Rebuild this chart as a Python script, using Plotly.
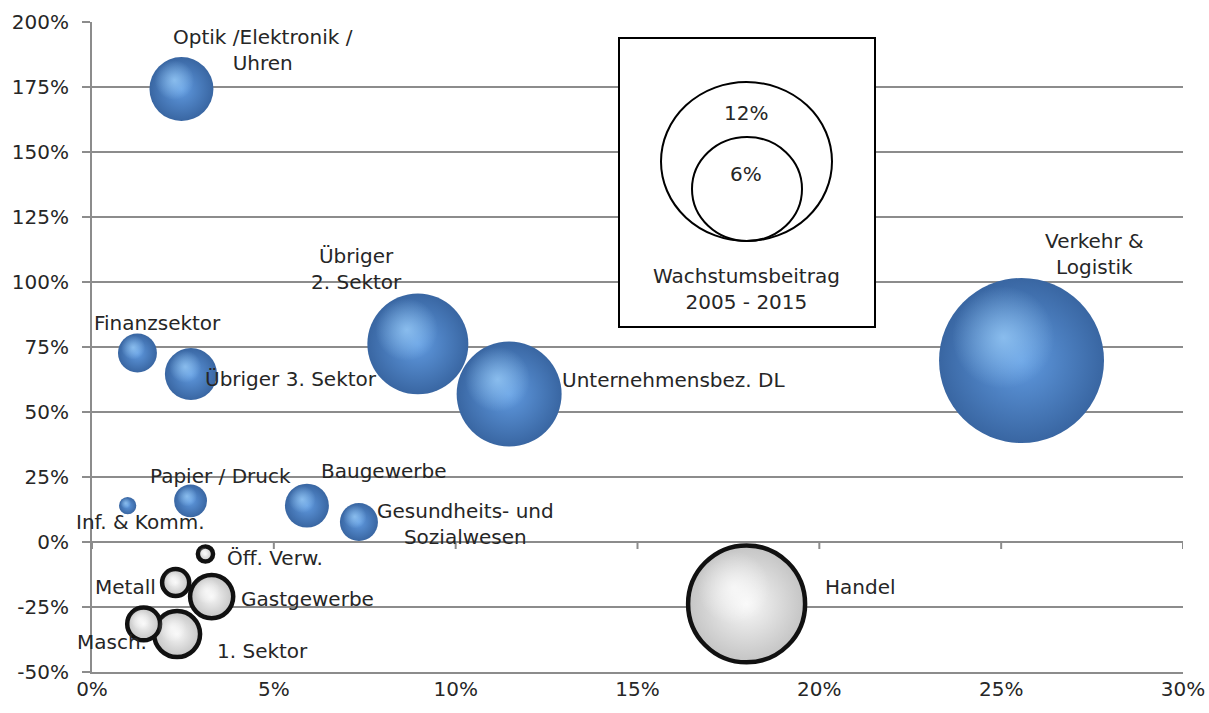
import numpy as np
import plotly.graph_objects as go

# ---------------- data ----------------
branchen = ["Optik /Elektronik /<br>Uhren", "Finanzsektor", "Übriger 3. Sektor",
            "Übriger<br>2. Sektor", "Unternehmensbez. DL", "Verkehr &<br>Logistik",
            "Inf. & Komm.", "Papier / Druck", "Baugewerbe", "Gesundheits- und<br>Sozialwesen",
            "1. Sektor", "Metall", "Masch.", "Gastgewerbe", "Öff. Verw.", "Handel"]
# Beschäftigungswachstum 2005-2015 (x, %)
wachstum_x = [2.46, 1.25, 2.72, 8.96, 11.47, 25.56, 0.98, 2.71, 5.91, 7.34,
              2.34, 2.30, 1.42, 3.29, 3.12, 18.0]
# Wertschöpfungswachstum (y, %)
wachstum_y = [174.2, 72.7, 64.6, 76.2, 56.9, 69.8, 14.0, 15.8, 14.0, 7.7,
              -35.4, -15.6, -31.5, -21.0, -4.6, -23.8]
# Wachstumsbeitrag 2005-2015 (bubble size, %; negative = white bubble)
beitrag = [1.78, 0.66, 1.18, 4.44, 4.80, 11.85, 0.13, 0.47, 0.84, 0.63,
           -0.92, -0.32, -0.47, -0.81, -0.10, -5.96]

x_ticks = [0, 5, 10, 15, 20, 25, 30]
y_ticks = [-50, -25, 0, 25, 50, 75, 100, 125, 150, 175, 200]
legend_values = ["12%", "6%"]
legend_title = "Wachstumsbeitrag<br>2005 - 2015"

# ---------------- styling ----------------
FONT = "DejaVu Sans"
TXT = "#262626"
GRID = "#8c8c8c"
D_REF, V_REF = 166.0, 12.0   # bubble diameter (px) for reference value
X_RANGE, Y_RANGE = [0, 30], [-50, 200]
L, R, T, B = 92, 1183, 22, 672   # plot area in pixels
PX_X = (R - L) / (X_RANGE[1] - X_RANGE[0])
PX_Y = (B - T) / (Y_RANGE[1] - Y_RANGE[0])

def diam(v):
    return D_REF * np.sqrt(abs(v) / V_REF)

# label offsets (pixels) and anchors, per branch
label_pos = [(82, 39, "center"), (20, 30, "center"), (12, -5, "left"),
             (-61, 75, "center"), (51, 14, "left"), (73, 107, "center"),
             (13, -16, "center"), (30, 25, "center"), (77, 35, "center"), (107, -2, "center"),
             (38, -17, "left"), (-18, -4, "right"), (5, -18, "right"), (27, -2, "left"),
             (20, -4, "left"), (76, 17, "left")]

fig = go.Figure()

pos = [i for i, v in enumerate(beitrag) if v > 0]
neg = [i for i, v in enumerate(beitrag) if v < 0]

def highlight(idx, col):
    return go.Scatter(
        x=[wachstum_x[i] - 0.22 * diam(beitrag[i]) / 2 / PX_X for i in idx],
        y=[wachstum_y[i] + 0.28 * diam(beitrag[i]) / 2 / PX_Y for i in idx], mode="markers",
        marker=dict(size=[0.62 * diam(beitrag[i]) for i in idx], sizemode="diameter", sizeref=1,
                    color=col.replace("ALPHA", "0"),
                    gradient=dict(type="radial", color=col.replace("ALPHA", "0.95")),
                    line=dict(width=0)),
        hoverinfo="skip", showlegend=False)

# blue spheres (positive contribution)
fig.add_trace(go.Scatter(
    x=[wachstum_x[i] for i in pos], y=[wachstum_y[i] for i in pos], mode="markers",
    marker=dict(size=[diam(beitrag[i]) for i in pos], sizemode="diameter", sizeref=1,
                color="#3966a2", opacity=1,
                gradient=dict(type="radial", color="#609ae0"),
                line=dict(width=0)),
    hoverinfo="skip", showlegend=False))
fig.add_trace(highlight(pos, "rgba(165,215,255,ALPHA)"))

# white spheres (negative contribution)
fig.add_trace(go.Scatter(
    x=[wachstum_x[i] for i in neg], y=[wachstum_y[i] for i in neg], mode="markers",
    marker=dict(size=[diam(beitrag[i]) for i in neg], sizemode="diameter", sizeref=1,
                color="#c4c4c4", opacity=1,
                gradient=dict(type="radial", color="#f8f8f8"),
                line=dict(width=4.5, color="#111111")),
    hoverinfo="skip", showlegend=False))
fig.add_trace(highlight(neg, "rgba(255,255,255,ALPHA)"))

annotations = []
for i, name in enumerate(branchen):
    dx, dy, anc = label_pos[i]
    annotations.append(dict(x=wachstum_x[i], y=wachstum_y[i], xref="x", yref="y",
                            text=name, showarrow=False, xshift=dx, yshift=dy,
                            xanchor=anc, yanchor="middle", align="center",
                            font=dict(family=FONT, size=20, color=TXT)))

# legend box (paper coordinates from pixel layout)
def px(xp): return (xp - L) / (R - L)
def py(yp): return (B - yp) / (B - T)

shapes = []
shapes.append(dict(type="rect", xref="paper", yref="paper",
                   x0=px(619), x1=px(875), y0=py(327), y1=py(38),
                   line=dict(color="black", width=2), fillcolor="white", layer="above"))
shapes.append(dict(type="circle", xref="paper", yref="paper",
                   x0=px(661), x1=px(832), y0=py(241), y1=py(82),
                   line=dict(color="black", width=2), layer="above"))
shapes.append(dict(type="circle", xref="paper", yref="paper",
                   x0=px(692), x1=px(802), y0=py(241), y1=py(137),
                   line=dict(color="black", width=2), layer="above"))
for (yy, t) in [(113, legend_values[0]), (174, legend_values[1])]:
    annotations.append(dict(x=px(746), y=py(yy), xref="paper", yref="paper", text=t,
                            showarrow=False, xanchor="center", yanchor="middle",
                            font=dict(family=FONT, size=20, color=TXT)))
annotations.append(dict(x=px(746), y=py(289), xref="paper", yref="paper", text=legend_title,
                        showarrow=False, xanchor="center", yanchor="middle", align="center",
                        font=dict(family=FONT, size=20, color=TXT)))

# x tick marks on the 0% line
for xt in x_ticks:
    shapes.append(dict(type="line", xref="x", yref="y", ysizemode="pixel", yanchor=0,
                       x0=xt, x1=xt, y0=0, y1=-7, line=dict(color=GRID, width=2), layer="below"))

fig.update_layout(
    width=1209, height=713, autosize=False,
    margin=dict(l=L, r=1209 - R, t=T, b=713 - B, pad=0),
    paper_bgcolor="white", plot_bgcolor="white",
    font=dict(family=FONT, size=20, color=TXT),
    annotations=annotations, shapes=shapes,
    xaxis=dict(range=X_RANGE, tickvals=x_ticks, ticktext=[f"{v}%" for v in x_ticks],
               showgrid=False, zeroline=False, showline=True, linecolor=GRID, linewidth=2,
               ticks="", ticklabelstandoff=-2, automargin=False,
               tickfont=dict(family=FONT, size=20, color=TXT)),
    yaxis=dict(range=Y_RANGE, tickvals=y_ticks, ticktext=[f"{v}%" for v in y_ticks],
               showgrid=True, gridcolor=GRID, gridwidth=2, zeroline=False,
               showline=True, linecolor=GRID, linewidth=2, automargin=False,
               ticks="outside", ticklen=8, tickcolor=GRID, tickwidth=2,
               ticklabelstandoff=9, tickfont=dict(family=FONT, size=20, color=TXT)),
)

fig.write_html("out.html")
